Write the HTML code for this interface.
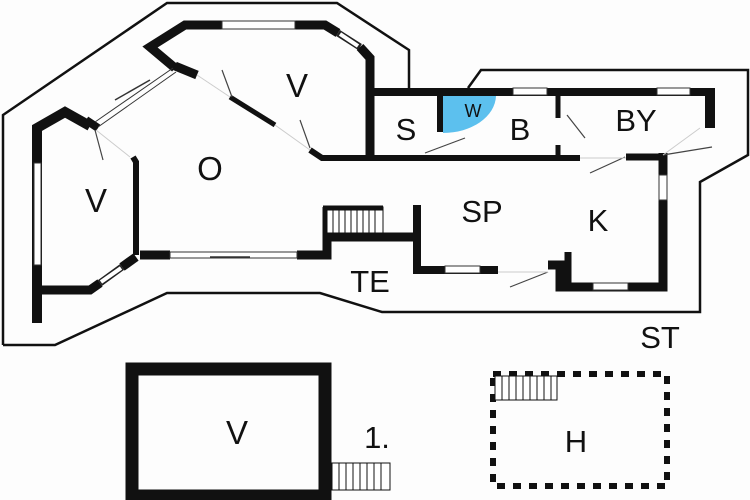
<!DOCTYPE html>
<html><head><style>
html,body{margin:0;padding:0;background:#fff;}
svg{display:block;}
text{font-family:"Liberation Sans",sans-serif;fill:#111;text-anchor:middle;}
</style></head><body>
<svg width="750" height="500" viewBox="0 0 750 500" xmlns="http://www.w3.org/2000/svg">
<rect width="750" height="500" fill="#fdfdfd"/>
<!-- outer outline -->
<polyline points="3,345 3,115 167,3 337,3 409,50 409,90" fill="none" stroke="#111" stroke-width="2.5"/>
<polyline points="468,88 481,70 748,70 748,155 700,182 700,312 382,312 320,293 167,293 55,345 3,345" fill="none" stroke="#111" stroke-width="2.5"/>

<!-- blue W -->
<path d="M443,96 L496,96 A53,38 0 0 1 443,133 Z" fill="#5cc0ee"/>

<g stroke="#111" fill="none" stroke-linejoin="miter">
<!-- top V room -->
<polyline points="175,68 150,47 185,25 222,25" stroke-width="9"/>
<polyline points="295,25 325,25 338,33" stroke-width="9"/>
<polyline points="360,47 370,58 370,160" stroke-width="9"/>
<line x1="175" y1="66" x2="197" y2="75" stroke-width="9"/>
<line x1="230" y1="97" x2="275" y2="125" stroke-width="5"/>
<polyline points="310,150 322,158 580,158" stroke-width="6"/>
<line x1="626" y1="157" x2="663" y2="157" stroke-width="7"/>
<!-- top of S/B/BY -->
<line x1="367" y1="92" x2="713" y2="92" stroke-width="8"/>
<line x1="710" y1="88" x2="710" y2="128" stroke-width="10"/>
<line x1="440" y1="92" x2="440" y2="132" stroke-width="6"/>
<line x1="558" y1="92" x2="558" y2="118" stroke-width="5"/>
<line x1="558" y1="145" x2="558" y2="158" stroke-width="5"/>
<!-- K -->
<polyline points="663,153 663,287 560,287 560,265 548,265" stroke-width="9"/>
<line x1="568" y1="252" x2="568" y2="287" stroke-width="7"/>
<polyline points="417,205 417,270 498,270" stroke-width="8"/>
<!-- TE -->
<polyline points="417,237 327,237 327,255 297,255" stroke-width="9"/>
<line x1="140" y1="255" x2="170" y2="255" stroke-width="9"/>
<!-- left V -->
<polyline points="37,323 37,128 65,112 90,126" stroke-width="10"/>
<polyline points="133,157 136,162 136,255" stroke-width="6"/>
<polyline points="37,290 90,290 100,283" stroke-width="9"/>
<line x1="122" y1="267" x2="136" y2="257" stroke-width="9"/>
<line x1="86" y1="120" x2="98" y2="128" stroke-width="8"/>
</g>
<!-- windows -->
<g fill="#fff" stroke="#333" stroke-width="1">
<rect x="222" y="21" width="73" height="8"/>
<rect x="513" y="88" width="34" height="7"/>
<rect x="657" y="88" width="33" height="7"/>
<rect x="659" y="175" width="8" height="25"/>
<rect x="593" y="283" width="35" height="7"/>
<rect x="445" y="266" width="35" height="7"/>
<rect x="170" y="252" width="127" height="6"/>
<rect x="34" y="163" width="7" height="102"/>
</g>
<g stroke="#333" stroke-width="1" fill="none">
<line x1="338" y1="33" x2="360" y2="47" stroke-width="7" stroke="#222"/>
<line x1="340" y1="34" x2="358" y2="46" stroke-width="4" stroke="#fff"/>
<line x1="100" y1="283" x2="122" y2="267" stroke-width="7" stroke="#222"/>
<line x1="101" y1="282" x2="121" y2="268" stroke-width="4" stroke="#fff"/>
<line x1="95" y1="122" x2="173" y2="68"/>
<line x1="98" y1="127" x2="176" y2="72"/>
<line x1="115" y1="100" x2="150" y2="80" stroke-width="1.5"/>
<line x1="210" y1="257" x2="250" y2="257" stroke-width="1.5"/>
</g>
<!-- thin door lines -->
<g stroke="#444" stroke-width="1.2">
<line x1="95" y1="130" x2="103" y2="160"/>
<line x1="222" y1="70" x2="232" y2="97"/>
<line x1="300" y1="120" x2="310" y2="148"/>
<line x1="425" y1="153" x2="465" y2="138"/>
<line x1="567" y1="115" x2="585" y2="138"/>
<line x1="590" y1="173" x2="625" y2="157"/>
<line x1="663" y1="155" x2="712" y2="147"/>
<line x1="510" y1="287" x2="548" y2="272"/>
</g>
<g stroke="#ccc" stroke-width="1">
<line x1="96" y1="130" x2="130" y2="157"/>
<line x1="197" y1="75" x2="230" y2="97"/>
<line x1="275" y1="125" x2="310" y2="150"/>
<line x1="663" y1="155" x2="700" y2="128"/>
<line x1="498" y1="272" x2="548" y2="272"/>
<line x1="580" y1="158" x2="626" y2="158"/>
</g>
<!-- stairs TE -->
<rect x="325" y="207" width="58" height="26" fill="#fff" stroke="#111" stroke-width="1"/>
<line x1="323" y1="208" x2="383" y2="208" stroke="#111" stroke-width="5"/>
<line x1="325" y1="207" x2="325" y2="237" stroke="#111" stroke-width="5"/>
<g stroke="#111" stroke-width="1">
<line x1="333" y1="210" x2="333" y2="233"/><line x1="339" y1="210" x2="339" y2="233"/><line x1="345" y1="210" x2="345" y2="233"/><line x1="351" y1="210" x2="351" y2="233"/><line x1="357" y1="210" x2="357" y2="233"/><line x1="363" y1="210" x2="363" y2="233"/><line x1="369" y1="210" x2="369" y2="233"/><line x1="375" y1="210" x2="375" y2="233"/>
</g>

<!-- bottom V box -->
<rect x="132" y="369" width="193" height="127" fill="none" stroke="#111" stroke-width="13"/>
<rect x="332" y="463" width="58" height="27" fill="#fff" stroke="#111" stroke-width="1"/>
<g stroke="#111" stroke-width="1">
<line x1="339" y1="463" x2="339" y2="490"/><line x1="346" y1="463" x2="346" y2="490"/><line x1="353" y1="463" x2="353" y2="490"/><line x1="360" y1="463" x2="360" y2="490"/><line x1="367" y1="463" x2="367" y2="490"/><line x1="374" y1="463" x2="374" y2="490"/><line x1="381" y1="463" x2="381" y2="490"/>
</g>
<!-- H dotted box -->
<rect x="493" y="374" width="174" height="112" fill="none" stroke="#111" stroke-width="6" stroke-dasharray="8,8"/>
<rect x="495" y="376" width="62" height="24" fill="#fff" stroke="#111" stroke-width="1"/>
<g stroke="#111" stroke-width="1">
<line x1="502" y1="376" x2="502" y2="400"/><line x1="509" y1="376" x2="509" y2="400"/><line x1="516" y1="376" x2="516" y2="400"/><line x1="523" y1="376" x2="523" y2="400"/><line x1="530" y1="376" x2="530" y2="400"/><line x1="537" y1="376" x2="537" y2="400"/><line x1="544" y1="376" x2="544" y2="400"/><line x1="551" y1="376" x2="551" y2="400"/>
</g>

<!-- labels -->
<g font-size="33">
<text x="297" y="97">V</text>
<text x="210" y="180">O</text>
<text x="96" y="212">V</text>
<text x="406" y="140" font-size="31">S</text>
<text x="520" y="140" font-size="31">B</text>
<text x="636" y="131" font-size="31">BY</text>
<text x="482" y="222" font-size="31">SP</text>
<text x="598" y="231" font-size="31">K</text>
<text x="370" y="292" font-size="31">TE</text>
<text x="660" y="348" font-size="31">ST</text>
<text x="237" y="444">V</text>
<text x="377" y="448" font-size="31">1.</text>
<text x="576" y="452" font-size="31">H</text>
</g>
<text x="473" y="117" font-size="18">W</text>
</svg>
</body></html>
